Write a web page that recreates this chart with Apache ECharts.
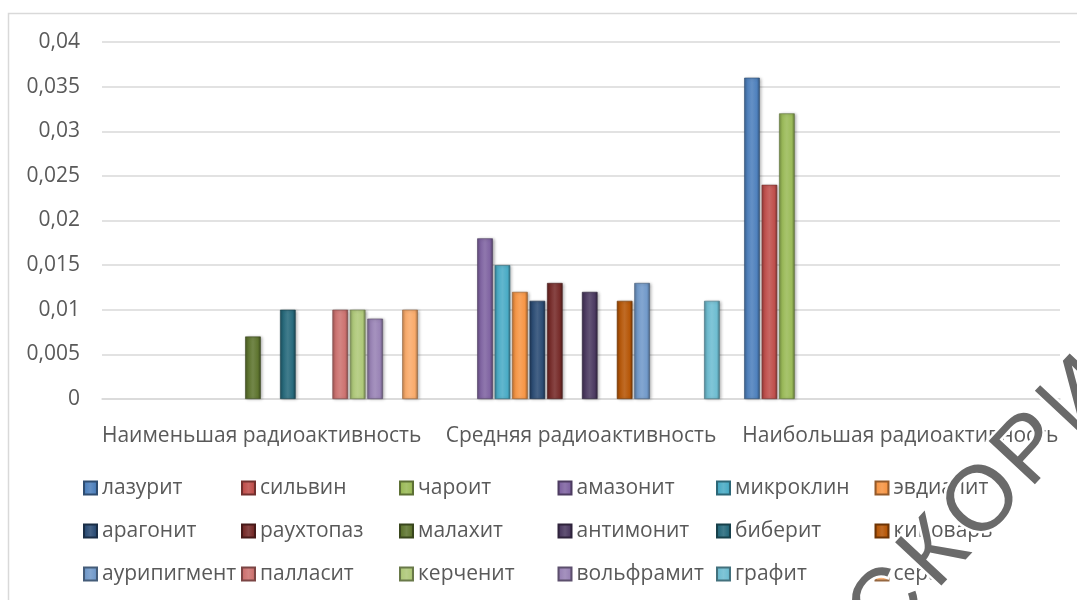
<!DOCTYPE html>
<html>
<head>
<meta charset="utf-8">
<script src="https://cdn.jsdelivr.net/npm/echarts@6/dist/echarts.min.js"></script>
<style>
html,body{margin:0;padding:0;background:#fff;}
#chart{width:1077px;height:600px;}
</style>
</head>
<body>
<div id="chart"></div>
<script>
// ---- data ----
const categories = ['Наименьшая радиоактивность', 'Средняя радиоактивность', 'Наибольшая радиоактивность'];
const seriesNames = ['лазурит','сильвин','чароит','амазонит','микроклин','эвдиалит',
                     'арагонит','раухтопаз','малахит','антимонит','биберит','киноварь',
                     'аурипигмент','палласит','керченит','вольфрамит','графит','сера'];
const lazurit     = [0, 0, 0.036];
const silvin      = [0, 0, 0.024];
const charoit     = [0, 0, 0.032];
const amazonit    = [0, 0.018, 0];
const mikroklin   = [0, 0.015, 0];
const evdialit    = [0, 0.012, 0];
const aragonit    = [0, 0.011, 0];
const rauhtopaz   = [0, 0.013, 0];
const malahit     = [0.007, 0, 0];
const antimonit   = [0, 0.012, 0];
const biberit     = [0.010, 0, 0];
const kinovar     = [0, 0.011, 0];
const auripigment = [0, 0.013, 0];
const pallasit    = [0.010, 0, 0];
const kerchenit   = [0.010, 0, 0];
const volframit   = [0.009, 0, 0];
const grafit      = [0, 0.011, 0];
const sera        = [0.010, 0, 0];
const seriesValues = [lazurit, silvin, charoit, amazonit, mikroklin, evdialit,
                      aragonit, rauhtopaz, malahit, antimonit, biberit, kinovar,
                      auripigment, pallasit, kerchenit, volframit, grafit, sera];
const yTicks = {min: 0, max: 0.04, interval: 0.005};
const watermarkLetters = ['С','К','О','Р','И','Н'];

// ---- style ----
const colors = ['#4F81BD','#C0504D','#9BBB59','#8064A2','#4BACC6','#F79646',
                '#2C4D75','#772C2A','#5F7530','#4D3B62','#276A7C','#B65708',
                '#729ACA','#CD7371','#AFC97A','#9983B5','#6FBDD1','#F9AB6B'];
function shade(hex, f){
  let r=parseInt(hex.substr(1,2),16), g=parseInt(hex.substr(3,2),16), b=parseInt(hex.substr(5,2),16);
  if(f<0){ r=r*(1+f); g=g*(1+f); b=b*(1+f); }
  else { r=r+(255-r)*f; g=g+(255-g)*f; b=b+(255-b)*f; }
  return 'rgb('+Math.round(r)+','+Math.round(g)+','+Math.round(b)+')';
}
function grad(c){
  return {type:'linear', x:0, y:0, x2:1, y2:0, colorStops:[
    {offset:0, color:shade(c,-0.25)},
    {offset:0.18, color:c},
    {offset:0.5, color:shade(c,0.12)},
    {offset:0.82, color:c},
    {offset:1, color:shade(c,-0.35)}
  ]};
}
const FONT = 'Open Sans';
const TXT = '#595959';
const FS = 21;

const series = seriesNames.map((n,i)=>({
  name:n, type:'bar', data:seriesValues[i].map(v=> v===0 ? null : v),
  barGap:'12%', barCategoryGap:'2.2%',
  itemStyle:{color:grad(colors[i]), borderColor:shade(colors[i],-0.4), borderWidth:0.6,
             shadowBlur:3, shadowColor:'rgba(0,0,0,0.35)', shadowOffsetX:1.5, shadowOffsetY:0.5},
  emphasis:{disabled:true}
}));

const colLeft = [83, 241, 399, 557.5, 716, 874.5];
const legends = colLeft.map((l,c)=>({
  orient:'vertical', left:l, top:477, padding:0, itemWidth:13, itemHeight:13, itemGap:21,
  icon:'rect', selectedMode:false,
  data:[seriesNames[c], seriesNames[c+6], seriesNames[c+12]],
  textStyle:{fontFamily:FONT, fontSize:FS, color:TXT, lineHeight:22}
}));

// watermark letters placed along a diagonal
const wm = watermarkLetters.map((ch,k)=>({
  type:'text', x:888 + 48*k, y:606 - 52*k, rotation:47*Math.PI/180, z:100, silent:true,
  style:{text:ch, fontFamily:'Liberation Sans', fontSize:92,
         fill:'#6a6a6a', stroke:'#fff', lineWidth:5, align:'center', verticalAlign:'middle'}
}));

const chart = echarts.init(document.getElementById('chart'), null, {renderer:'canvas'});
chart.setOption({
  animation:false,
  backgroundColor:'#fff',
  grid:{left:102, right:17, top:42, bottom:201, containLabel:false},
  xAxis:{type:'category', data:categories,
    axisLine:{show:true, lineStyle:{color:'#d9d9d9', width:1.5}},
    axisTick:{show:false},
    axisLabel:{fontFamily:FONT, fontSize:FS, color:TXT, margin:27, interval:0}},
  yAxis:{type:'value', min:yTicks.min, max:yTicks.max, interval:yTicks.interval,
    axisLine:{show:false}, axisTick:{show:false},
    axisLabel:{fontFamily:FONT, fontSize:FS, color:TXT, margin:22,
      formatter:v=>String(+v.toFixed(3)).replace('.',',')},
    splitLine:{lineStyle:{color:'#d9d9d9', width:1.5}}},
  legend:legends,
  series:series,
  graphic:[
    {type:'rect', shape:{x:8.5, y:13.5, width:1100, height:700}, silent:true, z:-10,
     style:{fill:null, stroke:'#d9d9d9', lineWidth:1.5}}
  ].concat(wm)
});
</script>
</body>
</html>
